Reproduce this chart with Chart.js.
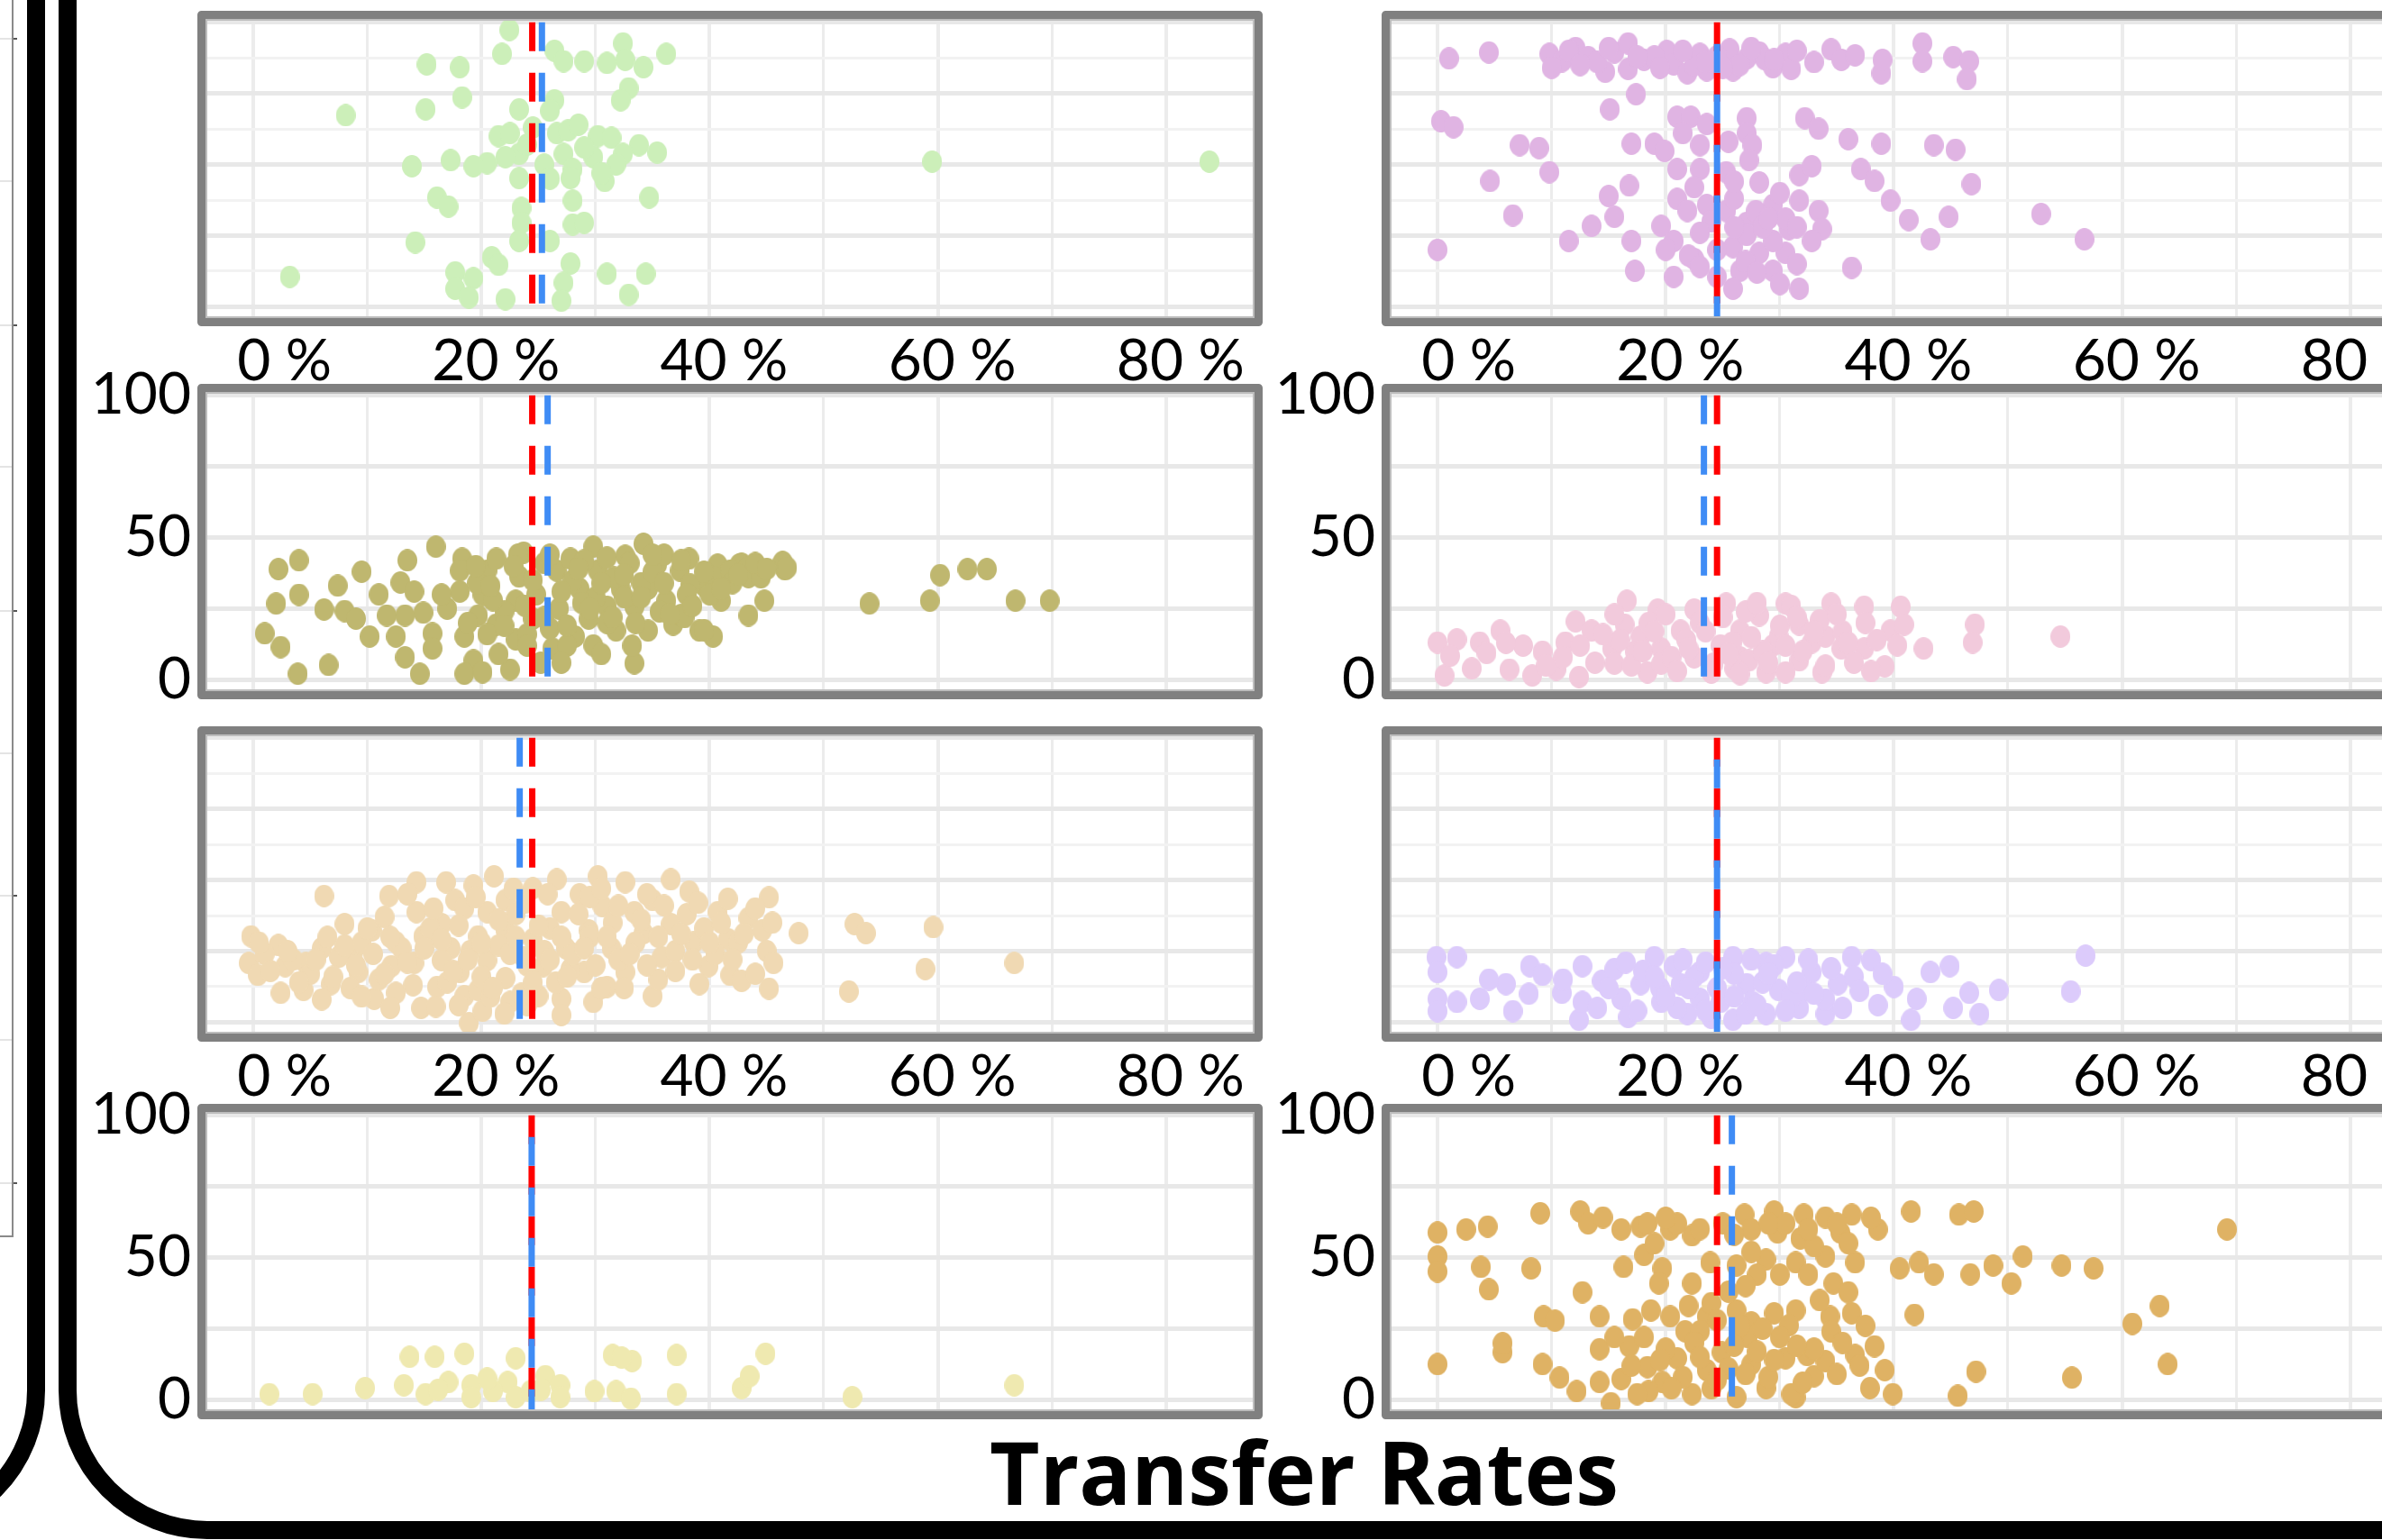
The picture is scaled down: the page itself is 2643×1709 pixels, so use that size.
<!DOCTYPE html>
<html>
<head>
<meta charset="utf-8">
<title>Transfer Rates</title>
<script src="https://cdn.jsdelivr.net/npm/chart.js@4.4.1/dist/chart.umd.min.js"></script>
<style>
  html, body { margin: 0; padding: 0; background: #fff; overflow: hidden; }
  #fig { position: relative; width: 2643px; height: 1709px; overflow: hidden; background: #fff; }
  .frame { position: absolute; box-sizing: border-box; border: 20px solid #000; border-radius: 165px; }
  .bar { position: absolute; }
  #title { position: absolute; left: 1047px; top: 1585px; width: 800px; text-align: center;
           font: bold 96px/1 "Open Sans", Lato, sans-serif; color: #000; white-space: nowrap; }
  canvas { position: absolute; }
</style>
</head>
<body>
<div id="fig">
  <!-- neighbouring panel frame and the edge of its plot -->
  <div class="frame" style="left:-1000px;top:-400px;width:1050px;height:2108px;"></div>
  <div class="bar" style="left:13px;top:0;width:2px;height:1373px;background:#8a8a8a;"></div>
  <div class="bar" style="left:0;top:1371px;width:15px;height:2px;background:#8a8a8a;"></div>
  <!-- this panel's frame -->
  <div class="frame" style="left:65px;top:-400px;width:3000px;height:2108px;"></div>
  <div id="title">Transfer Rates</div>
</div>
<script>
// ---------- data ----------
const xTickValues = [0, 20, 40, 60, 80];
const yTickValues = [0, 50, 100];

// dashed reference lines per panel (transfer rate, %)
const redMeans  = [24.45, 24.5, 24.45, 24.5, 24.45, 24.5, 24.4, 24.5];
const blueMeans = [25.3, 24.5, 25.8, 23.35, 23.35, 24.5, 24.4, 25.8];

const greenPts = [
[22.45,97.3],[21.8,88.9],[15.2,85.2],[18.1,84.2],[26.4,90],[27.2,86.3],[29.0,86.3],[31.0,85.7],[32.4,92.6],[32.6,86.8],
[34.2,84.2],[36.2,88.9],[32.9,76.8],[32.2,72.6],[18.3,73.6],[15.1,69.4],[8.1,67.3],[23.3,69.4],[26.4,72.6],[26.0,68.9],
[21.5,60],[22.5,61],[26.6,61],[27.6,62],[30.2,60],[31.4,59.4],[33.8,56.8],[35.4,54.2],[32.4,53.7],[29.8,52.6],
[27.2,53.7],[28.0,48.4],[27.8,45.2],[30.8,44.2],[31.8,50],[23.3,53.7],[22.1,52.6],[20.5,50.5],[19.3,49.4],[17.3,51.5],
[13.9,49.4],[23.3,45.2],[16.1,38.4],[17.1,35.2],[23.5,34.7],[28.0,37.3],[34.7,38.4],[23.5,29.5],[28.0,28.9],[29.0,29.5],
[23.3,23.1],[26.0,23.1],[14.2,22.6],[20.9,17.4],[21.5,14.7],[27.8,15.2],[3.2,10.5],[17.7,12.1],[19.3,10.0],[17.7,6.3],
[18.9,3.2],[22.1,2.6],[27.2,8.4],[27.0,2.1],[31.0,11.6],[34.4,11.6],[32.9,4.2],[59.5,51.0],[83.8,51.0],
[24.0,57],[25.5,50],[29.0,56],[30.5,47],[26.0,45],[24.5,63],[28.5,64]
];

const lilacPts = [
[1.0,87.3],[4.5,89.4],[9.8,88.9],[10.9,86.3],[12.1,91],[13.2,87.8],[14.7,82.6],[15.5,89.4],[16.7,92.6],[16.7,83.6],
[18.1,86.8],[20.1,89.9],[20.7,85.2],[21.9,82.1],[23.0,88.9],[23.6,83.1],[25.6,90.5],[25.9,83.1],[27.1,87.3],[28.2,89.4],
[29.4,84.2],[30.5,88.9],[31.0,83.6],[34.5,90.5],[35.4,86.8],[36.6,88.4],[38.9,82.1],[39.0,86.8],[42.5,92.6],[42.5,86.3],
[45.2,87.8],[46.6,86.3],[46.4,80],[22.5,85],[24.5,88],[26.5,85],[28.7,87],[19.0,88],[14.0,86],[11.5,90],
[10.0,84],[12.5,85],[15.0,91],[17.5,88],[19.5,84],[21.5,90],[23.5,86],[25.0,84],[27.5,91],[29.5,87],[31.5,90],[33.0,86],
[17.4,74.7],[15.1,69.4],[0.3,65.2],[1.4,63.1],[21.0,66.8],[22.2,66.8],[23.6,64.2],[27.1,66.3],[27.1,61],[32.2,66.3],
[33.4,62.6],[7.2,56.8],[8.9,55.8],[17.0,57.3],[19.0,57.3],[19.9,54.7],[23.0,56.8],[27.6,56.8],[27.3,51.5],[36.0,58.9],
[38.9,57.3],[43.5,56.8],[45.4,55.2],[9.8,47.3],[4.6,44.2],[21.0,48.4],[23.0,48.4],[25.3,47.3],[28.2,43.7],[31.7,46.3],
[32.8,49.4],[37.1,48.4],[38.3,44.2],[46.8,43.1],[16.8,42.6],[15.0,38.9],[15.5,31.6],[6.6,32.1],[13.5,28.4],[11.5,23.1],
[0.0,20],[17.0,23.1],[19.6,28.4],[21.0,37.9],[21.9,33.7],[23.6,35.8],[25.3,33.7],[27.1,29.5],[27.9,33.7],[29.4,35.8],
[31.7,37.3],[33.4,33.7],[33.7,27.3],[32.8,23.1],[39.7,37.3],[41.3,30.5],[44.8,31.6],[52.9,32.6],[56.7,23.7],[43.2,23.7],
[20.7,23.1],[22.5,16.8],[25.9,21.0],[28.2,18.9],[30.5,18.9],[29.4,23.1],[17.3,12.6],[20.7,10.5],[29.4,12.6],[26.5,12.6],
[36.3,13.7],[25.9,6.3],[31.7,6.3],[24.5,10.5],[27.1,25.2],[30.8,27.3],[24.0,30],[26.0,38],[28.5,28],[30.5,31],
[22.0,18],[27.0,16],[31.5,15],[25.5,58],[21.5,61],
[20.0,20],[23.0,26],[24.5,20],[26.0,28],[28.0,12],[29.0,31],[30.0,8],[31.5,28],[23.0,14],[22.5,42],[26.0,44],[30.0,40]
];

const olivePts = [
[2.2,38.9],[4.0,42.0],[2.0,26.8],[4.0,29.9],[1.0,16.3],[2.4,11.5],[3.9,2.1],[6.6,5.2],[7.4,33.1],[6.2,24.7],
[8.0,24.2],[9.0,21.5],[10.2,15.2],[11.7,22.6],[12.5,15.2],[13.3,7.9],[13.5,42.0],[12.9,34.2],[14.1,31.0],[13.3,22.6],
[14.9,23.6],[15.7,16.3],[15.7,11.0],[14.6,2.1],[16.0,46.8],[18.3,42.6],[18.1,38.4],[18.1,31.0],[18.5,15.2],[19.3,6.8],
[18.5,2.1],[20.1,2.6],[22.5,3.6],[20.5,38.4],[21.3,42.6],[20.1,29.9],[19.7,22.6],[21.3,19.4],[23.0,14.2],[23.7,44.7],
[23.3,36.3],[23.0,27.8],[24.5,21.5],[26.2,11.0],[26.6,38.4],[27.8,42.6],[29.8,46.8],[28.6,32.0],[30.2,38.4],[31.0,25.7],
[29.4,21.5],[28.2,15.2],[29.8,12.1],[31.8,17.3],[32.6,43.6],[32.2,32.0],[33.4,25.7],[33.4,5.8],[34.2,47.8],[35.4,40.5],
[34.6,32.0],[36.2,27.8],[34.6,17.3],[36.8,19.4],[37.4,38.4],[38.2,42.6],[39.5,33.1],[39.1,17.3],[40.3,15.2],[40.7,40.5],
[39.5,17.5],[40.4,36.1],[42.8,40.8],[46.4,41.4],[46.6,38.8],[43.4,36.1],[38.3,33.5],[37.5,22.8],[42.6,40.5],[43.4,39.4],
[41.8,38.4],[41.0,27.8],[44.8,27.8],[43.4,22.6],[46.4,41.0],[46.8,39.4],[54.0,26.8],[59.3,27.8],[60.2,36.8],[62.6,38.9],
[64.3,38.9],[66.8,27.8],[69.8,27.8],
[24.8,30],[25.5,41],[26.8,25],[28.0,35],[30.0,29],[31.6,36],[33.0,41],[26.0,18],[22.0,24],[35.6,24],
[38.0,30],[33.2,12],[25.2,6],[19.6,34],[21.0,28],[29.0,42],[36.0,44],[37.8,22],[23.2,44],[27.5,12],
[31.0,20],[34.0,34],[40.0,30],[42.0,34],[44.5,36],[20.5,16],[24.0,16],[28.8,27],[32.5,29],[35.0,38],
[17.0,25],[18.8,20],[19.5,40],[20.8,33],[22.0,19],[22.8,40],[23.8,26],[24.5,35],[25.5,22],[26.0,44],
[27.0,31],[27.5,19],[28.5,39],[29.5,25],[30.5,34],[31.0,43],[31.5,22],[32.5,37],[33.5,20],[34.0,29],
[35.0,44],[36.0,34],[36.5,23],[37.5,42],[38.5,26],[39.5,38],[41.0,32],[42.5,37],[44.0,41],[45.0,39],
[21.5,9],[24.0,12],[27.0,6],[30.5,9],[16.5,30],[11.0,30],[9.5,38]
];

const pinkPts = [
[0.0,13.1],[1.7,14.2],[3.7,13.1],[0.6,1.5],[1.1,8.4],[4.3,9.4],[5.5,17.3],[6.3,3.6],[8.3,1.5],[9.2,9.9],
[11.2,13.1],[10.4,3.6],[12.4,1.0],[12.1,20.5],[13.5,17.3],[15.3,11.0],[15.5,5.7],[16.6,27.8],[16.4,19.4],[17.8,15.2],
[18.4,2.6],[19.3,24.7],[19.6,11.0],[21.3,17.3],[22.5,24.7],[22.5,7.9],[24.8,12.1],[25.3,26.8],[26.5,17.3],[26.5,7.9],
[28.2,22.6],[28.8,2.6],[29.4,12.1],[30.5,26.8],[31.7,19.4],[31.7,6.8],[32.8,13.1],[33.7,2.6],[34.0,15.2],[34.5,26.8],
[35.4,11.0],[37.4,25.7],[37.4,11.0],[39.2,4.7],[39.7,17.3],[40.6,25.7],[40.9,19.4],[40.3,12.1],[42.6,11.0],[47.1,19.4],
[46.9,13.1],[54.6,15.2],[27.3,6.8],[30.5,2.6],[24.2,5.7],[19.6,5.7],[17.3,9.9],[29.9,15.2],
[16.0,14],[18.5,20],[20.5,8],[21.8,14],[23.0,20],[24.0,2.5],[25.8,13],[27.0,24],[28.5,10],[30.0,19],
[31.0,26],[32.0,10],[33.5,21],[35.5,17],[36.5,6],[38.5,14],[13.8,6],[11.0,8],[7.5,12],[26.0,4],
[14.5,16],[15.5,23],[17.0,5],[18.0,10],[19.0,17],[20.0,23],[21.0,3],[22.0,11],[23.5,17],[25.0,22],
[25.5,9],[26.5,2],[27.5,15],[28.0,27],[29.0,6],[30.5,12],[31.5,22],[33.0,17],[34.0,5],[35.0,23],
[36.0,13],[37.5,20],[38.0,3],[12.5,12],[9.5,5],[6.0,13],[3.0,4]
];

const wheatPts = [
[-0.2,30.2],[-0.4,20.8],[0.4,16.6],[2.2,27.1],[2.8,19.7],[2.4,10.3],[4.4,11.3],[4.6,20.8],[6.2,44.4],[6.0,26.0],
[6.8,13.4],[8.0,34.5],[8.8,25.0],[9.2,17.6],[10.6,8.2],[10.4,32.3],[11.9,44.4],[12.5,28.1],[12.1,19.7],[12.5,10.3],
[14.3,49.2],[14.3,38.7],[14.9,30.2],[14.1,20.8],[14.7,5.0],[16.1,12.4],[16.9,49.2],[17.7,42.9],[16.5,34.5],[17.3,26.0],
[18.1,17.6],[18.5,9.2],[18.9,-0.3],[19.3,48.1],[20.5,38.7],[19.7,30.2],[20.5,21.8],[19.7,11.3],[20.1,4.0],[21.1,51.3],
[22.1,42.9],[22.1,32.3],[22.1,15.5],[22.5,7.1],[24.5,47.1],[24.5,29.2],[25.4,19.7],[25.0,9.2],[26.6,50.2],[27.0,38.7],
[27.4,26.0],[27.0,8.2],[28.6,45.0],[29.4,32.3],[29.0,17.6],[30.2,51.3],[30.6,40.8],[31.4,26.0],[31.0,12.4],[32.6,49.2],
[33.4,38.7],[32.6,17.6],[34.2,31.3],[35.0,42.9],[35.0,9.2],[36.6,50.2],[35.8,22.9],[36.6,34.5],[38.2,46.0],[38.6,28.1],
[39.1,13.4],[39.9,19.7],[40.7,38.7],[27.8,18.7],[23.7,22.9],[16.5,21.8],[29.8,7.1],
[41.6,43.4],[45.2,43.9],[43.4,36.6],[41.6,29.2],[44.6,32.3],[45.0,25.0],[45.6,20.8],[41.8,16.6],[42.8,14.5],[45.2,11.8],
[47.8,31.3],[52.7,34.5],[53.7,31.3],[59.6,33.4],[58.9,18.7],[52.2,10.8],[66.7,20.8],
[1.0,24],[3.5,22],[5.0,17],[7.5,23],[9.5,28],[11.0,15],[13.0,26],[15.5,33],[17.0,14],[19.0,25],
[20.0,16],[21.5,27],[23.0,38],[23.5,10],[24.0,20],[26.0,33],[26.5,14],[28.0,24],[29.5,44],[30.5,12],
[31.5,35],[32.0,22],[33.5,28],[34.5,45],[35.5,15],[37.0,25],[38.0,38],[39.5,33],[40.5,24],[42.5,28],
[44.0,17],[45.5,35],[18.5,40],[11.5,37],[8.5,12],[16.0,5.5],[27.0,2.5],[22.8,47],[13.5,45],[25.5,25],
[29.5,30],[20.8,9],
[0.5,28],[1.5,18],[3.0,25],[4.0,14],[5.5,22],[6.5,30],[7.0,16],[8.0,27],[9.0,20],[10.0,33],
[10.5,24],[11.5,17],[12.0,30],[13.5,21],[14.0,13],[15.0,26],[15.8,40],[16.5,29],[17.5,18],[18.0,34],
[18.8,22],[19.5,44],[20.0,28],[21.0,12],[21.5,36],[22.5,24],[23.0,30],[23.8,42],[24.5,14],[25.0,34],
[25.8,45],[26.0,22],[27.0,30],[27.5,16],[28.5,38],[29.0,26],[30.0,20],[30.5,47],[31.0,30],[32.0,41],
[32.5,12],[33.0,24],[34.0,36],[34.5,20],[35.5,30],[36.0,41],[37.0,18],[37.5,31],[38.5,22],[39.0,42],
[40.0,28],[41.0,35],[42.0,22],[43.0,31],[44.0,40],[18.0,6],[22.0,3],[24.0,6],[12.0,5],[9.5,9],[6.0,8]
];

const lavenderPts = [
[-0.1,22.9],[1.7,22.9],[0.0,17.6],[0.0,8.2],[1.7,7.1],[0.0,3.9],[3.7,8.2],[6.0,13.4],[6.6,3.9],[8.1,19.7],
[9.2,16.6],[10.9,10.3],[12.4,0.8],[12.7,19.7],[12.7,7.1],[14.4,14.5],[15.5,18.7],[16.1,8.2],[16.7,1.8],[17.8,13.4],
[19.0,22.9],[19.6,7.1],[20.7,19.7],[21.3,13.4],[21.9,2.9],[23.0,17.6],[23.0,8.2],[25.9,22.9],[25.9,0.8],[27.1,13.4],
[27.6,7.1],[28.8,20.8],[29.9,11.3],[30.5,22.9],[31.7,5.0],[32.8,17.6],[34.0,2.9],[35.1,13.4],[36.3,22.9],[38.0,21.8],
[38.6,6.0],[40.0,12.4],[41.5,0.8],[42.0,8.2],[43.2,17.6],[44.9,19.7],[45.2,5.0],[46.6,10.3],[47.5,2.9],[49.2,11.3],
[55.5,10.8],[56.8,23.4],[24.8,7.1],[28.8,2.9],[32.2,11.3],
[18.0,18],[19.5,12],[21.0,5],[22.5,16],[23.5,21],[24.5,12],[26.0,17],[27.0,3],[28.5,14],[29.5,20],
[31.0,9],[32.5,22],[34.0,8],[36.5,16],[14.0,5],[11.0,15],[24.0,1.5],
[15.0,12],[16.5,21],[17.5,4],[19.0,16],[20.0,9],[21.5,22],[22.0,12],[23.5,4],[25.0,19],[26.0,9],
[27.5,22],[28.0,6],[29.0,17],[30.5,4],[31.5,14],[33.0,10],[34.5,19],[35.5,5],[37.0,11],[39.0,17],
[8.0,10],[4.5,15]
];

const yellowPts = [
[1.4,2.0],[5.2,2.0],[9.8,4.1],[13.7,15.1],[15.9,15.1],[18.5,16.2],[13.2,5.1],[15.1,2.0],[17.1,6.2],[19.1,5.1],
[19.1,0.9],[23.0,14.6],[22.3,6.2],[23.0,0.9],[25.6,8.3],[26.9,5.1],[26.9,0.9],[29.9,3.0],[31.5,15.7],[33.2,13.6],
[31.8,3.0],[33.1,0.4],[37.1,15.7],[37.1,2.0],[42.8,4.1],[43.5,8.3],[44.9,16.2],[52.5,0.9],[66.7,5.1],[24.3,3.0],
[21.0,3.0],[16.2,3.5],[20.5,7.5],[32.3,14.8],[25.2,3.5]
];

const goldPts = [
[0.0,58.8],[2.5,59.9],[4.4,60.9],[0.0,50.4],[0.0,45.1],[3.8,46.7],[4.5,38.8],[8.2,46.2],[9.0,65.6],[12.5,66.2],
[13.2,62.0],[14.5,64.1],[16.1,59.9],[17.8,60.9],[18.4,62.0],[20.4,59.9],[22.3,57.8],[16.3,46.7],[18.1,50.9],[19.7,46.2],
[19.4,40.9],[22.3,40.9],[23.9,48.3],[26.9,65.1],[27.5,59.9],[29.5,66.2],[29.8,58.8],[32.1,65.1],[31.8,56.7],[34.0,64.1],
[35.3,58.8],[36.3,65.1],[38.6,59.9],[26.2,47.2],[28.8,49.3],[31.4,48.3],[34.0,50.4],[36.6,48.3],[34.7,40.9],[36.0,37.8],
[41.5,66.2],[45.7,65.1],[47.0,66.2],[40.5,46.2],[42.2,48.3],[43.5,44.1],[46.7,44.1],[48.7,47.2],[50.3,40.9],[51.3,50.4],
[54.7,47.2],[57.5,46.2],[69.2,59.9],[12.7,37.8],[9.3,29.3],[10.3,27.8],[14.2,29.3],[17.1,28.3],[18.7,31.4],[20.4,29.3],
[21.7,24.1],[23.6,29.3],[26.2,31.4],[27.5,27.2],[29.5,30.4],[31.4,31.4],[30.8,26.2],[34.4,29.3],[36.3,30.4],[41.8,29.9],
[60.9,26.7],[63.3,33.0],[64.0,12.5],[0.0,12.5],[5.7,16.7],[5.7,19.9],[9.2,12.5],[10.7,7.8],[12.2,3.0],[14.2,17.8],
[15.2,-1.2],[14.2,6.2],[16.8,18.8],[16.1,7.3],[18.4,11.5],[19.7,6.2],[21.0,14.6],[22.3,2.0],[23.6,10.4],[24.9,16.7],
[26.2,0.9],[27.5,12.5],[28.8,4.1],[30.5,14.6],[31.4,0.9],[32.4,15.7],[33.0,8.3],[34.0,13.6],[36.6,15.7],[37.9,4.1],
[38.3,18.8],[39.2,10.4],[39.9,2.0],[45.6,1.4],[47.2,9.9],[55.6,7.8],[18.1,22.0],[27.2,22.0],[23.0,24.1],
[17.0,12],[18.5,3],[20.0,18],[21.5,8],[22.5,20],[24.0,4],[25.5,11],[26.5,26],[28.0,17],[29.0,8],
[30.0,22],[31.0,2],[33.0,18],[35.0,9],[19.0,55],[21.0,62],[25.0,62],[27.5,52],[30.5,62],[33.0,54],
[36.0,55],[25.5,38],[28.0,44],[32.5,44],[24.0,34],[22.0,33],[34.5,24],[37.5,26],
[15.5,22],[17.5,2],[19.5,14],[20.5,4],[23.0,15],[24.5,7],[26.0,19],[27.0,9],[28.5,25],[29.5,14],
[31.5,19],[32.0,6],[35.5,20],[37.0,12],[20.0,64],[23.0,60],[26.0,58],[29.0,62],[32.5,60],[35.0,62],
[38.0,64],[27.0,40],[30.0,44],[33.5,35],[24.5,28]
];

// ---------- layout ----------
const X_MIN = -4.19, X_MAX = 87.76, Y_MIN = -4, Y_MAX = 101.2, LINE_TOP = 100;
const COL_LEFT = [228, 1542];
const ROW_TOP = [21, 435, 815, 1234];
const PLOT_W = 1164, PLOT_H = 332;
const PAD_L = 200, PAD_T = 60, PAD_R = 20, PAD_B = 100;

const panels = [
  { pts: greenPts,    color: '#ccefb9', col: 0, row: 0, idx: 0, xLab: true,  yLab: false },
  { pts: lilacPts,    color: '#e0b4e3', col: 1, row: 0, idx: 1, xLab: true,  yLab: false },
  { pts: olivePts,    color: '#bfb76f', col: 0, row: 1, idx: 2, xLab: false, yLab: true  },
  { pts: pinkPts,     color: '#f2cadc', col: 1, row: 1, idx: 3, xLab: false, yLab: true  },
  { pts: wheatPts,    color: '#f0d9b3', col: 0, row: 2, idx: 4, xLab: true,  yLab: false },
  { pts: lavenderPts, color: '#dccbfb', col: 1, row: 2, idx: 5, xLab: true,  yLab: false },
  { pts: yellowPts,   color: '#efe9b0', col: 0, row: 3, idx: 6, xLab: false, yLab: true  },
  { pts: goldPts,     color: '#dfb264', col: 1, row: 3, idx: 7, xLab: false, yLab: true  }
];

Chart.defaults.font.family = 'Lato';

function dotImage(color) {
  const c = document.createElement('canvas');
  c.width = 22; c.height = 25;
  const g = c.getContext('2d');
  g.fillStyle = color;
  g.beginPath();
  g.ellipse(11, 12.5, 11, 12.5, 0, 0, Math.PI * 2);
  g.fill();
  return c;
}

// grey box around each plot area
const plotFrame = {
  id: 'plotFrame',
  afterDraw(chart) {
    const a = chart.chartArea, g = chart.ctx;
    g.save();
    g.strokeStyle = '#bdbdbd';
    g.lineWidth = 2;
    g.strokeRect(a.left + 1, a.top + 1, a.right - a.left - 2, a.bottom - a.top - 2);
    g.strokeStyle = '#808080';
    g.lineWidth = 9;
    g.lineJoin = 'round';
    g.strokeRect(a.left - 4.5, a.top - 4.5, a.right - a.left + 9, a.bottom - a.top + 9);
    g.restore();
  }
};

const fig = document.getElementById('fig');
const tickFont = { family: 'Lato', size: 64, lineHeight: 1 };

panels.forEach(p => {
  const W = PAD_L + PLOT_W + PAD_R, H = PAD_T + PLOT_H + PAD_B;
  const cv = document.createElement('canvas');
  cv.width = W; cv.height = H;
  cv.style.left = (COL_LEFT[p.col] - PAD_L) + 'px';
  cv.style.top = (ROW_TOP[p.row] - PAD_T) + 'px';
  cv.style.width = W + 'px';
  cv.style.height = H + 'px';
  fig.appendChild(cv);

  const red = redMeans[p.idx], blue = blueMeans[p.idx];
  const shared = Math.abs(red - blue) < 0.5;

  new Chart(cv, {
    type: 'scatter',
    data: {
      datasets: [
        { label: 'blue', data: [{ x: blue, y: LINE_TOP }, { x: blue, y: Y_MIN }], showLine: true,
          borderColor: '#3f8cf5', borderWidth: 7, borderDash: [32, 24], borderDashOffset: shared ? 32 : 0,
          borderCapStyle: 'butt', pointRadius: 0, pointHitRadius: 0 },
        { label: 'red', data: [{ x: red, y: LINE_TOP }, { x: red, y: Y_MIN }], showLine: true,
          borderColor: '#ff0000', borderWidth: 7, borderDash: [32, 24],
          borderCapStyle: 'butt', pointRadius: 0, pointHitRadius: 0 },
        { label: 'rates', data: p.pts.map(([x, y]) => ({ x, y })), showLine: false,
          pointStyle: dotImage(p.color), pointRadius: 11, backgroundColor: p.color, borderWidth: 0 }
      ]
    },
    options: {
      responsive: false,
      animation: false,
      events: [],
      devicePixelRatio: 1,
      layout: { padding: { left: 0, top: PAD_T, right: PAD_R, bottom: 0 } },
      plugins: { legend: { display: false }, tooltip: { enabled: false } },
      scales: {
        x: {
          type: 'linear', min: X_MIN, max: X_MAX,
          afterFit(s) { s.height = PAD_B; },
          border: { display: false },
          grid: { color: '#ececec', drawTicks: false,
                  lineWidth: c => (c.tick && c.tick.value % 20 === 0) ? 4 : 3 },
          ticks: { stepSize: 10, includeBounds: false, autoSkip: false, maxRotation: 0, minRotation: 0,
                   display: p.xLab, align: 'end', labelOffset: 87, padding: 16, color: '#000', font: tickFont,
                   callback: v => xTickValues.includes(v) ? v + ' %' : '' }
        },
        y: {
          type: 'linear', min: Y_MIN, max: Y_MAX,
          afterFit(s) { s.width = PAD_L; },
          border: { display: false },
          grid: { drawTicks: false,
                  color: c => (c.tick && c.tick.value % 25 === 0) ? '#e8e8e8' : '#f2f2f2',
                  lineWidth: c => (c.tick && c.tick.value % 25 === 0) ? 5 : 3 },
          ticks: { stepSize: 12.5, includeBounds: false, display: p.yLab, padding: 16, color: '#000', font: tickFont,
                   callback: v => yTickValues.includes(v) ? String(v) : '' }
        }
      }
    },
    plugins: [plotFrame]
  });
});

// light grid and tick stubs of the neighbouring plot's right edge
[42, 200, 360, 517, 677, 835, 993, 1153, 1312].forEach((y, i) => {
  const d = document.createElement('div');
  d.className = 'bar';
  d.style.cssText = `left:0;top:${y}px;width:13px;height:2px;background:#e4e4e4;`;
  fig.appendChild(d);
  if (i % 2 === 0) {
    const t = document.createElement('div');
    t.className = 'bar';
    t.style.cssText = `left:15px;top:${y}px;width:4px;height:2px;background:#555;`;
    fig.appendChild(t);
  }
});
</script>
</body>
</html>
